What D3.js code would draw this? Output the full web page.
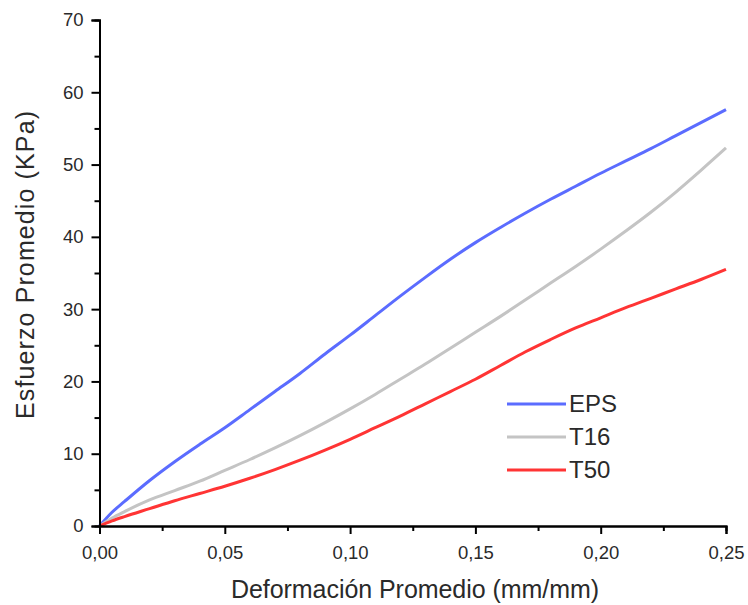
<!DOCTYPE html>
<html>
<head>
<meta charset="utf-8">
<script src="https://cdn.jsdelivr.net/npm/d3@7"></script>
<style>
  body { margin: 0; background: #fff; }
  svg { display: block; font-family: "Liberation Sans", Arial, sans-serif; }
</style>
</head>
<body>
<div class="chartArea"></div>
<script>
// datos
const deformacion = [0, 0.005, 0.01, 0.02, 0.03, 0.04, 0.05, 0.06, 0.07, 0.08, 0.09, 0.10,
    0.11, 0.12, 0.13, 0.14, 0.15, 0.16, 0.17, 0.18, 0.19, 0.20, 0.21, 0.22, 0.23, 0.24, 0.25];
const esfuerzoEPS = [0, 1.9, 3.4, 6.3, 8.9, 11.3, 13.6, 16.1, 18.6, 21.1, 23.8, 26.4,
    29.1, 31.8, 34.4, 36.9, 39.2, 41.3, 43.3, 45.2, 47.0, 48.8, 50.5, 52.2, 54.0, 55.8, 57.6];
const esfuerzoT16 = [0, 1.1, 2.0, 3.6, 4.9, 6.2, 7.7, 9.2, 10.8, 12.5, 14.3, 16.2,
    18.2, 20.3, 22.4, 24.6, 26.8, 29.0, 31.3, 33.6, 35.9, 38.3, 40.8, 43.4, 46.2, 49.2, 52.3];
const esfuerzoT50 = [0, 0.7, 1.3, 2.4, 3.5, 4.5, 5.5, 6.6, 7.8, 9.1, 10.5, 12.0,
    13.6, 15.2, 16.9, 18.6, 20.3, 22.2, 24.1, 25.8, 27.4, 28.8, 30.2, 31.5, 32.8, 34.1, 35.5];

const seriesNames = ["EPS", "T16", "T50"];
const seriesColors = ["#5b6cff", "#c4c4c4", "#ff3434"];
const xTicks = [0, 0.05, 0.10, 0.15, 0.20, 0.25];
const yTicks = [0, 10, 20, 30, 40, 50, 60, 70];

const width = 748, height = 605;
const margin = { top: 20, right: 22, bottom: 79, left: 99.5 };

const svg = d3.select(".chartArea").append("svg")
    .attr("width", width)
    .attr("height", height);

const x = d3.scaleLinear().domain([0, 0.25]).range([margin.left, width - margin.right]);
const y = d3.scaleLinear().domain([0, 70]).range([height - margin.bottom, margin.top]);

const es = d3.formatLocale({ decimal: ",", thousands: ".", grouping: [3], currency: ["", ""] });
const fmt = es.format(".2f");

// curvas
const allSeries = [esfuerzoEPS, esfuerzoT16, esfuerzoT50];
const line = d3.line()
    .x((d, i) => x(deformacion[i]))
    .y(d => y(d))
    .curve(d3.curveMonotoneX);

svg.append("g").selectAll("path")
    .data(allSeries)
    .enter()
    .append("path")
    .attr("d", d => line(d))
    .attr("fill", "none")
    .attr("stroke", (d, i) => seriesColors[i])
    .attr("stroke-width", 3);

// ejes
const xAxis = svg.append("g")
    .attr("transform", `translate(0,${y(0)})`)
    .call(d3.axisBottom(x).tickValues(xTicks).tickFormat(fmt).tickSize(8).tickPadding(12));
const xMinor = svg.append("g")
    .attr("transform", `translate(0,${y(0)})`)
    .call(d3.axisBottom(x).tickValues(xTicks.slice(1).map(v => v - 0.025)).tickFormat("").tickSize(5));

const yAxis = svg.append("g")
    .attr("transform", `translate(${x(0)},0)`)
    .call(d3.axisLeft(y).tickValues(yTicks).tickSize(8).tickPadding(8));
const yMinor = svg.append("g")
    .attr("transform", `translate(${x(0)},0)`)
    .call(d3.axisLeft(y).tickValues(yTicks.slice(1).map(v => v - 5)).tickFormat("").tickSize(5));

[xAxis, xMinor, yAxis, yMinor].forEach(g => {
    g.select(".domain").attr("stroke", "#000").attr("stroke-width", 2);
    g.selectAll(".tick line").attr("stroke", "#000").attr("stroke-width", 2);
    g.selectAll(".tick text")
        .attr("fill", "#2a2a2a")
        .style("font-size", "18.5px");
});

// títulos
svg.append("text")
    .attr("x", 415)
    .attr("y", 598)
    .attr("text-anchor", "middle")
    .attr("fill", "#2a2a2a")
    .attr("textLength", 368)
    .attr("lengthAdjust", "spacing")
    .style("font-size", "25px")
    .text("Deformación Promedio (mm/mm)");

svg.append("text")
    .attr("transform", "translate(34,265) rotate(-90)")
    .attr("text-anchor", "middle")
    .attr("fill", "#2a2a2a")
    .attr("textLength", 308)
    .attr("lengthAdjust", "spacing")
    .style("font-size", "25px")
    .text("Esfuerzo Promedio (KPa)");

// leyenda
const legend = svg.append("g")
    .selectAll("g")
    .data(seriesNames)
    .enter()
    .append("g")
    .attr("transform", (d, i) => `translate(507,${404 + i * 33})`);

legend.append("line")
    .attr("x1", 0).attr("x2", 59)
    .attr("stroke", (d, i) => seriesColors[i])
    .attr("stroke-width", 3);

legend.append("text")
    .attr("x", 62)
    .attr("dy", "0.35em")
    .attr("fill", "#2a2a2a")
    .style("font-size", "24px")
    .text(d => d);
</script>
</body>
</html>
